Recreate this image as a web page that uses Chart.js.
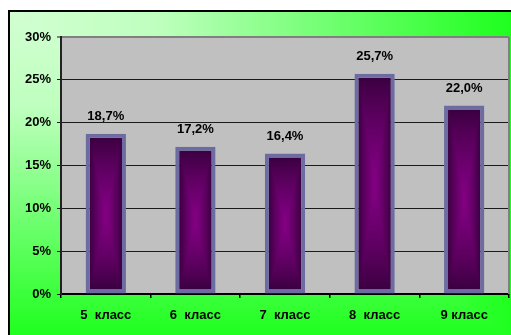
<!DOCTYPE html>
<html>
<head>
<meta charset="utf-8">
<script src="https://cdn.jsdelivr.net/npm/chart.js@4/dist/chart.umd.min.js"></script>
<style>
  html, body { margin: 0; padding: 0; background: #ffffff; }
  #wrap { width: 511px; height: 335px; position: relative; }
</style>
</head>
<body>
<div id="wrap"><canvas id="c" width="511" height="335"></canvas></div>
<script>
// Share of pupils by grade
const categories = ['5  класс', '6  класс', '7  класс', '8  класс', '9 класс'];
const shares = [18.7, 17.2, 16.4, 25.7, 22.0];
const yMin = 0;
const yMax = 30;
const yStep = 5;

const FONT = '"Liberation Sans", Arial, sans-serif';
const fmt = v => v.toFixed(1).replace('.', ',') + '%';

function lerpColor(a, b, t) {
  const r = Math.round(a[0] + (b[0] - a[0]) * t);
  const g = Math.round(a[1] + (b[1] - a[1]) * t);
  const bl = Math.round(a[2] + (b[2] - a[2]) * t);
  return `rgb(${r},${g},${bl})`;
}

// Green "from corner" page background with a framed box
const backdrop = {
  id: 'backdrop',
  beforeDraw(chart) {
    const ctx = chart.ctx;
    const W = chart.width, H = chart.height;
    ctx.save();
    ctx.fillStyle = '#ffffff';
    ctx.fillRect(0, 0, W, H);
    const x0 = 9, y0 = 11;
    const bw = W - x0 + 2, bh = H - y0 + 2;
    const stops = [[0, [210, 255, 210]], [0.3, [190, 255, 190]], [1, [30, 255, 30]]];
    const colorAt = t => {
      for (let i = 1; i < stops.length; i++) {
        if (t <= stops[i][0]) {
          const s = (t - stops[i - 1][0]) / (stops[i][0] - stops[i - 1][0]);
          return lerpColor(stops[i - 1][1], stops[i][1], s);
        }
      }
      return lerpColor(stops[stops.length - 1][1], stops[stops.length - 1][1], 0);
    };
    const N = 120;
    for (let i = N; i >= 1; i--) {
      const t = i / N;
      ctx.fillStyle = colorAt(t);
      ctx.fillRect(x0, y0, Math.ceil(bw * t), Math.ceil(bh * t));
    }
    ctx.strokeStyle = '#000000';
    ctx.lineWidth = 2;
    ctx.beginPath();
    ctx.moveTo(x0, H + 2);
    ctx.lineTo(x0, y0);
    ctx.lineTo(W + 2, y0);
    ctx.stroke();
    // plot area fill
    const a = chart.chartArea;
    ctx.fillStyle = '#c0c0c0';
    ctx.fillRect(a.left, a.top, a.right - a.left, a.bottom - a.top);
    ctx.restore();
  },
  beforeDatasetsDraw(chart) {
    const ctx = chart.ctx;
    const a = chart.chartArea;
    ctx.save();
    // right plot border
    ctx.strokeStyle = '#808080';
    ctx.lineWidth = 2;
    ctx.beginPath();
    ctx.moveTo(a.right, a.top);
    ctx.lineTo(a.right, a.bottom);
    ctx.stroke();
    // rectangular purple gradient inside each bar
    const dark = [58, 0, 64];
    const bright = [134, 0, 134];
    const bwid = chart.data.datasets[0].borderWidth;
    chart.getDatasetMeta(0).data.forEach(bar => {
      const p = bar.getProps(['x', 'y', 'base', 'width'], true);
      const left = p.x - p.width / 2 + bwid;
      const top = Math.min(p.y, p.base) + bwid;
      const iw = p.width - 2 * bwid;
      const ih = Math.abs(p.base - p.y) - 2 * bwid;
      const N = 40;
      for (let k = 0; k < N; k++) {
        const t = k / N;
        const dx = t * iw / 2, dy = t * ih / 2;
        ctx.fillStyle = lerpColor(dark, bright, Math.pow(t, 0.8));
        ctx.fillRect(left + dx, top + dy, iw - 2 * dx, ih - 2 * dy);
      }
    });
    ctx.restore();
  },
  afterDatasetsDraw(chart) {
    const ctx = chart.ctx;
    ctx.save();
    ctx.font = 'bold 13px ' + FONT;
    ctx.fillStyle = '#000000';
    ctx.textAlign = 'center';
    ctx.textBaseline = 'middle';
    chart.getDatasetMeta(0).data.forEach((bar, i) => {
      ctx.fillText(fmt(shares[i]), bar.x, bar.y - 17);
    });
    ctx.restore();
  }
};

new Chart(document.getElementById('c'), {
  type: 'bar',
  data: {
    labels: categories,
    datasets: [{
      data: shares,
      backgroundColor: 'rgba(0,0,0,0)',
      borderColor: '#6c6ca2',
      borderWidth: 4,
      borderSkipped: false,
      categoryPercentage: 1,
      barPercentage: 0.45
    }]
  },
  options: {
    responsive: false,
    animation: false,
    devicePixelRatio: 1,
    layout: { padding: { top: 37, right: 2, left: 0, bottom: 0 } },
    plugins: { legend: { display: false }, tooltip: { enabled: false } },
    scales: {
      x: {
        afterFit(scale) { scale.height = 41; },
        grid: {
          display: true,
          drawOnChartArea: false,
          drawTicks: true,
          tickLength: 4,
          color: '#000000',
          lineWidth: 1.5
        },
        border: { display: true, color: '#000000', width: 2 },
        ticks: {
          padding: 10,
          color: '#000000',
          font: { family: FONT, size: 13, weight: 'bold' }
        }
      },
      y: {
        min: yMin,
        max: yMax,
        afterFit(scale) { scale.width = 61; },
        grid: {
          drawTicks: true,
          tickLength: 4,
          color: ctx => (ctx.tick && ctx.tick.value === yMax) ? '#808080' : '#1a1a1a',
          lineWidth: ctx => (ctx.tick && ctx.tick.value === yMax) ? 2 : 1
        },
        border: { display: true, color: '#222222', width: 2 },
        ticks: {
          stepSize: yStep,
          padding: 6,
          color: '#000000',
          font: { family: FONT, size: 13, weight: 'bold' },
          callback: v => v + '%'
        }
      }
    }
  },
  plugins: [backdrop]
});
</script>
</body>
</html>
